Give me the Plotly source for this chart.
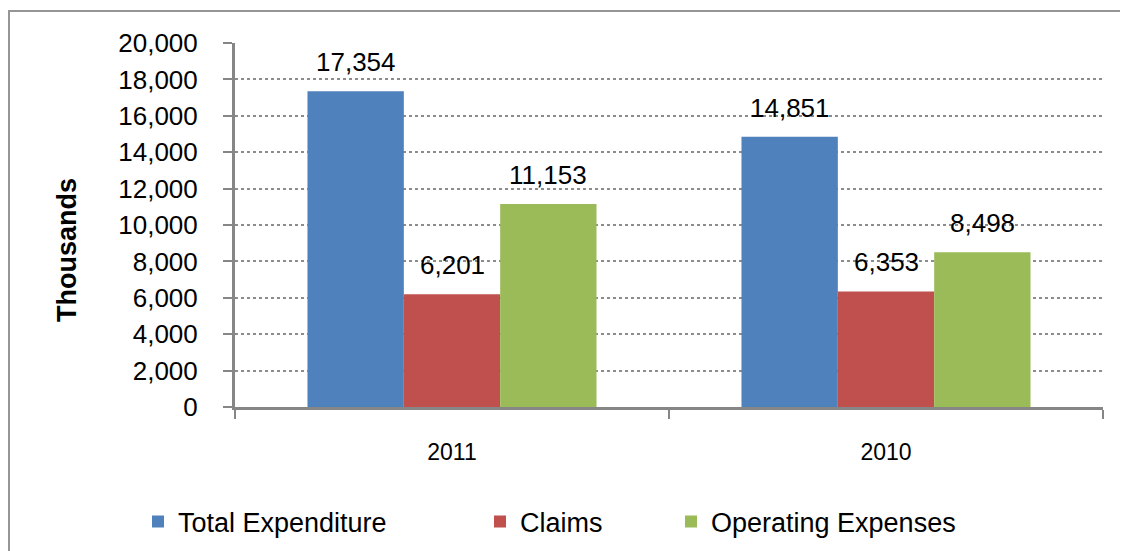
import plotly.graph_objects as go

categories = ["2011", "2010"]
series_names = ["Total Expenditure", "Claims", "Operating Expenses"]
total_expenditure = [17354, 14851]
claims = [6201, 6353]
operating_expenses = [11153, 8498]
series_values = [total_expenditure, claims, operating_expenses]
colors = ["#4F81BD", "#C0504D", "#9BBB59"]
y_ticks = list(range(0, 20001, 2000))

FONT = "Liberation Sans, Arial, sans-serif"
OFF = 8  # page body margin
W, H = 1128 - OFF, 551 - OFF
L, R, T, B = 235 - OFF, 25, 43 - OFF, 144
pw, ph = W - L - R, H - T - B

def px_x(p):  # page pixel -> paper
    return (p - OFF - L) / pw

def px_y(p):
    return (H - B - (p - OFF)) / ph

fig = go.Figure()
legend_names = ["legend", "legend2", "legend3"]
for name, vals, col, lg in zip(series_names, series_values, colors, legend_names):
    fig.add_trace(go.Bar(name=name, x=categories, y=vals, marker_color=col,
                         marker_line_width=0, legend=lg))

bar_px = pw / len(categories) * (1 - 0.334) / 3
offsets = [-bar_px, 0, bar_px]
for vals, off in zip(series_values, offsets):
    for i, v in enumerate(vals):
        fig.add_annotation(x=i, y=v, text=f"{v:,}", showarrow=False, xshift=off,
                           xanchor="center", yanchor="bottom", yshift=12,
                           font=dict(family=FONT, size=26, color="black"))

fig.add_annotation(xref="paper", yref="paper", x=px_x(67), y=px_y(250), text="<b>Thousands</b>",
                   textangle=-90, showarrow=False, xanchor="center", yanchor="middle",
                   font=dict(family=FONT, size=27, color="black"))

fig.add_shape(type="rect", xref="paper", yref="paper", x0=px_x(9), y0=px_y(620), x1=px_x(1180), y1=px_y(11),
              line=dict(color="#969696", width=2), fillcolor="rgba(0,0,0,0)", layer="below")

legend_pos = [138, 480, 671]
leg = {}
for lg, xp in zip(legend_names, legend_pos):
    leg[lg] = dict(
        xref="container", yref="container", x=(xp - OFF) / W, y=1 - (522 - OFF) / H,
        xanchor="left", yanchor="middle", orientation="h",
        font=dict(family=FONT, size=27, color="black"), bgcolor="rgba(0,0,0,0)")

fig.update_layout(
    width=W, height=H, margin=dict(l=L, r=R, t=T, b=B, autoexpand=False),
    plot_bgcolor="white", paper_bgcolor="white",
    barmode="group", bargap=0.334, bargroupgap=0,
    font=dict(family=FONT, color="black"),
    xaxis=dict(type="category", range=[-0.5, 1.5], showline=True, linecolor="#868686", linewidth=3,
               ticks="outside", tickson="boundaries", ticklen=9, tickwidth=2, tickcolor="#868686",
               tickfont=dict(family=FONT, size=23, color="black"), ticklabelstandoff=22,
               showgrid=False),
    yaxis=dict(range=[0, 20000], tickvals=y_ticks, tickformat=",d", showline=True,
               linecolor="#868686", linewidth=3, ticks="outside", ticklen=9, tickwidth=2,
               tickcolor="#868686", tickfont=dict(family=FONT, size=26, color="black"),
               ticklabelstandoff=20, showgrid=True, gridcolor="#8c8c8c", griddash="dot",
               gridwidth=1.5, zeroline=False),
    showlegend=True,
    **leg,
)

fig.write_html("out.html")
